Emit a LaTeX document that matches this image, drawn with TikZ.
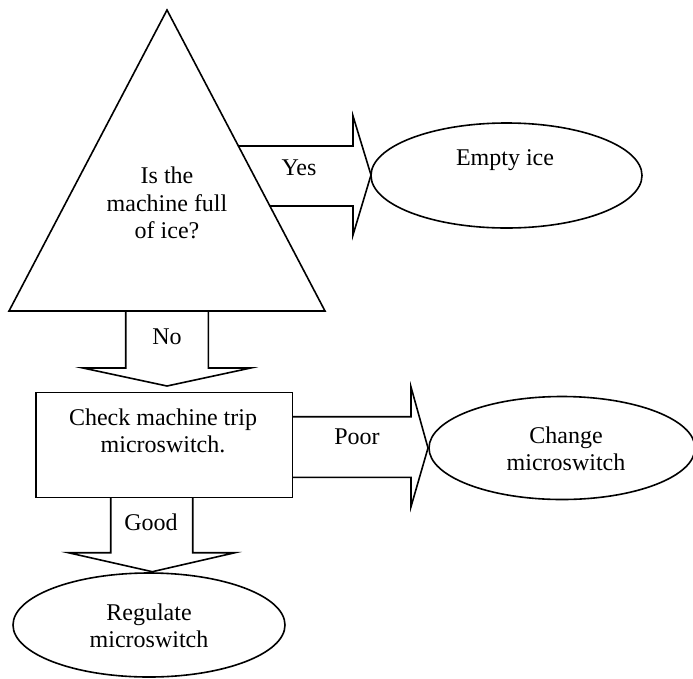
\documentclass[tikz,border=0pt]{standalone}
\usepackage{fontspec}
\setmainfont{Liberation Serif}
\begin{document}
\begin{tikzpicture}[x=1pt,y=-1pt,
  shapeline/.style={draw=black,line width=1.6pt,line join=miter},
  lbl/.style={inner sep=0pt,align=center,font=\fontsize{24}{27.5}\selectfont}]
\useasboundingbox (0,0) rectangle (693,678);
% triangle
\draw[shapeline] (167,10) -- (325,311) -- (9,311) -- cycle;
\node[lbl] (q) at (167,203) {Is the\\machine full\\of ice?};
% Yes arrow
\draw[shapeline] (238,146) -- (353,146) -- (353,116) -- (371,175) -- (353,235) -- (353,206) -- (270,206);
\node[lbl] (yes) at (299,168) {Yes};
% Empty ice ellipse
\draw[shapeline] (506.5,175.5) ellipse [x radius=135.5, y radius=52.5];
\node[lbl] (empty) at (505,160) {Empty ice};
% No arrow
\draw[shapeline] (125.7,311) -- (125.7,368) -- (83,368) -- (167,386) -- (250.7,368) -- (208.3,368) -- (208.3,311);
\node[lbl] (no) at (167,337) {No};
% Check box
\draw[shapeline] (36,392.3) rectangle (292.3,497.3);
\node[lbl] (check) at (163,431) {Check machine trip\\microswitch.};
% Poor arrow
\draw[shapeline] (292.3,416.7) -- (411,416.7) -- (411,387) -- (428,448) -- (411,506.7) -- (411,477.3) -- (292.3,477.3);
\node[lbl] (poor) at (357,437) {Poor};
% Change ellipse
\draw[shapeline] (562,448) ellipse [x radius=133, y radius=51.5];
\node[lbl] (change) at (566,449) {Change\\microswitch};
% Good arrow
\draw[shapeline] (110.7,497.3) -- (110.7,552.7) -- (68.3,552.7) -- (152.3,571.7) -- (235,552.7) -- (192.7,552.7) -- (192.7,497.3);
\node[lbl] (good) at (151,522) {Good};
% Regulate ellipse
\draw[shapeline] (149,625) ellipse [x radius=136, y radius=52];
\node[lbl] (reg) at (149,626) {Regulate\\microswitch};
\end{tikzpicture}
\end{document}
